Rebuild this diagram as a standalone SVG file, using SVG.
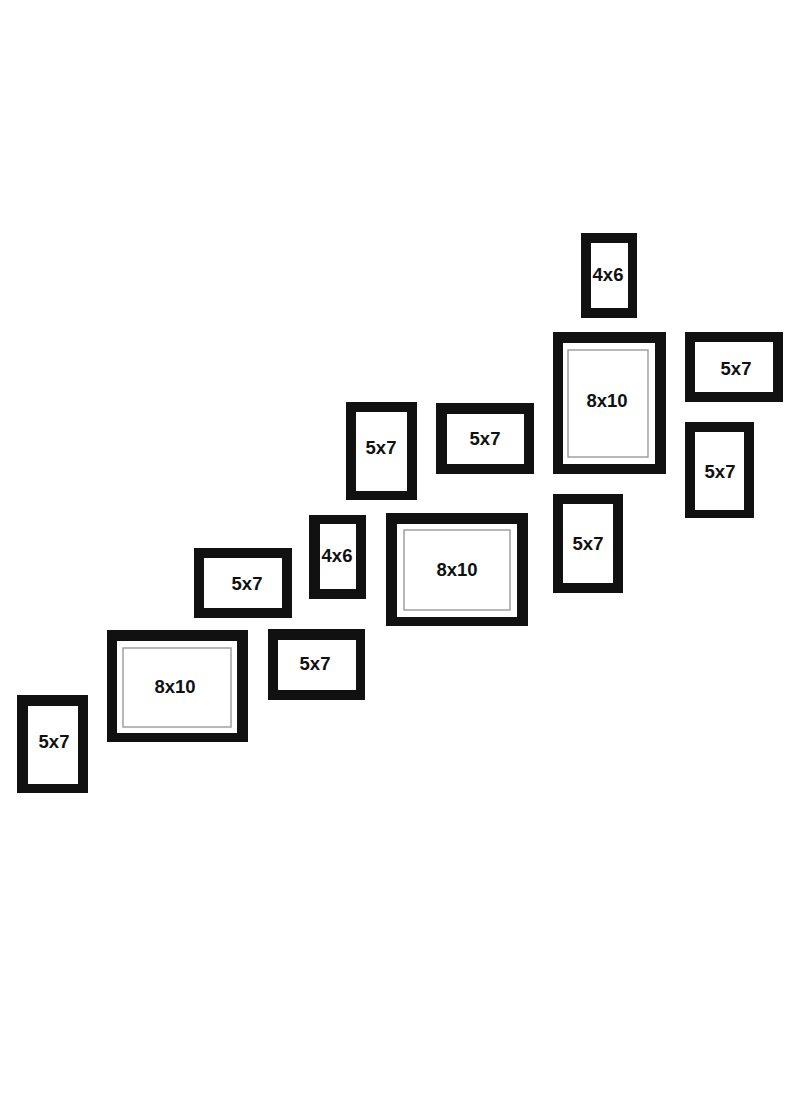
<svg xmlns="http://www.w3.org/2000/svg" width="800" height="1096" viewBox="0 0 800 1096">
<style>
.f{fill:#111}
.i{fill:#fff}
.m{fill:none;stroke:#a0a0a0;stroke-width:1.5}
.t{font-family:"Liberation Sans",Arial,sans-serif;font-weight:bold;font-size:18.5px;fill:#111;text-anchor:middle}
</style>
<rect width="800" height="1096" fill="#fff"/>
<g id="n1"><rect class="f" x="17" y="695" width="71" height="98"/><rect class="i" x="28" y="706" width="50" height="78"/><text class="t" x="54" y="748">5x7</text></g>
<g id="n2"><rect class="f" x="107" y="630" width="141" height="112"/><rect class="i" x="117" y="641" width="120" height="92"/><rect class="m" x="123" y="648" width="108" height="79"/><text class="t" x="175" y="693">8x10</text></g>
<g id="n3"><rect class="f" x="194" y="548" width="98" height="70"/><rect class="i" x="204" y="558" width="78" height="50"/><text class="t" x="247" y="590">5x7</text></g>
<g id="n4"><rect class="f" x="268" y="629" width="97" height="71"/><rect class="i" x="278" y="640" width="78" height="50"/><text class="t" x="315" y="670">5x7</text></g>
<g id="n5"><rect class="f" x="309" y="515" width="57" height="84"/><rect class="i" x="320" y="524" width="36" height="65"/><text class="t" x="337" y="562">4x6</text></g>
<g id="n6"><rect class="f" x="346" y="402" width="71" height="98"/><rect class="i" x="356" y="412" width="51" height="79"/><text class="t" x="381" y="454">5x7</text></g>
<g id="n7"><rect class="f" x="436" y="403" width="98" height="71"/><rect class="i" x="447" y="414" width="77" height="50"/><text class="t" x="485" y="445">5x7</text></g>
<g id="n8"><rect class="f" x="386" y="513" width="142" height="113"/><rect class="i" x="397" y="524" width="120" height="93"/><rect class="m" x="404" y="530" width="106" height="80"/><text class="t" x="457" y="576">8x10</text></g>
<g id="n9"><rect class="f" x="553" y="494" width="70" height="99"/><rect class="i" x="563" y="504" width="50" height="79"/><text class="t" x="588" y="550">5x7</text></g>
<g id="n10"><rect class="f" x="581" y="233" width="56" height="85"/><rect class="i" x="591" y="243" width="37" height="65"/><text class="t" x="608" y="281">4x6</text></g>
<g id="n11"><rect class="f" x="553" y="332" width="113" height="142"/><rect class="i" x="563" y="343" width="92" height="121"/><rect class="m" x="568" y="350" width="80" height="107"/><text class="t" x="607" y="407">8x10</text></g>
<g id="n12"><rect class="f" x="685" y="332" width="98" height="70"/><rect class="i" x="695" y="342" width="78" height="50"/><text class="t" x="736" y="375">5x7</text></g>
<g id="n13"><rect class="f" x="685" y="422" width="69" height="96"/><rect class="i" x="695" y="432" width="49" height="78"/><text class="t" x="720" y="478">5x7</text></g>
<g id="connectors"/>
</svg>
